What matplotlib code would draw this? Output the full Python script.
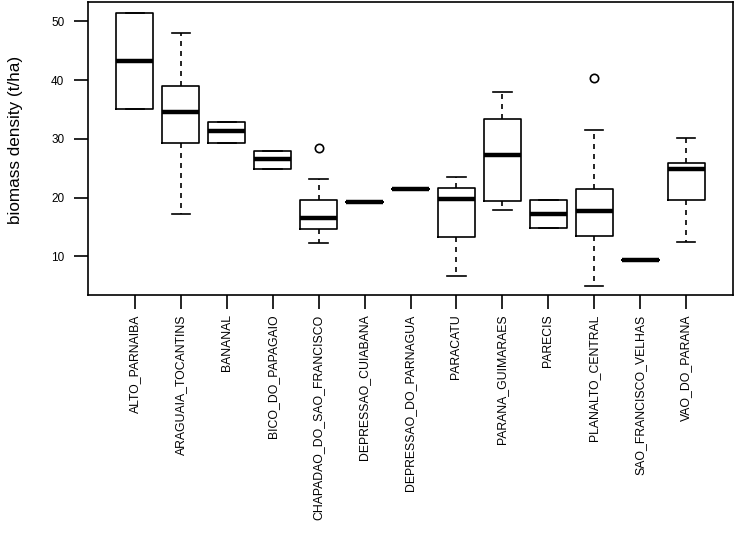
import matplotlib
matplotlib.use("Agg")
import matplotlib.pyplot as plt

plt.rcParams['font.family'] = ['Liberation Sans', 'DejaVu Sans']

regions = ['ALTO_PARNAIBA', 'ARAGUAIA_TOCANTINS', 'BANANAL', 'BICO_DO_PAPAGAIO',
           'CHAPADAO_DO_SAO_FRANCISCO', 'DEPRESSAO_CUIABANA', 'DEPRESSAO_DO_PARNAGUA',
           'PARACATU', 'PARANA_GUIMARAES', 'PARECIS', 'PLANALTO_CENTRAL',
           'SAO_FRANCISCO_VELHAS', 'VAO_DO_PARANA']

# five-number summaries (t/ha)
whisker_low = [35.1, 17.2, 29.3, 24.9, 12.3, 19.3, 21.4, 6.7, 17.9, 14.85, 5.0, 9.3, 12.5]
box_low     = [35.1, 29.3, 29.3, 24.9, 14.6, 19.3, 21.4, 13.2, 19.35, 14.85, 13.4, 9.3, 19.5]
medians     = [43.2, 34.5, 31.3, 26.6, 16.5, 19.3, 21.4, 19.75, 27.3, 17.2, 17.7, 9.3, 24.8]
box_high    = [51.4, 39.0, 32.9, 28.0, 19.5, 19.3, 21.4, 21.6, 33.4, 19.5, 21.4, 9.3, 25.9]
whisker_high = [51.4, 48.1, 32.9, 28.0, 23.2, 19.3, 21.4, 23.5, 38.05, 19.5, 31.5, 9.3, 30.1]
outliers = [[], [], [], [], [28.5], [], [], [], [], [], [40.4], [], []]

stats = []
for i in range(len(regions)):
    stats.append({'label': regions[i], 'whislo': whisker_low[i], 'q1': box_low[i],
                  'med': medians[i], 'q3': box_high[i], 'whishi': whisker_high[i],
                  'fliers': outliers[i]})

fig = plt.figure(figsize=(7.37, 5.37), dpi=100)
ax = fig.add_axes([88/737, 1 - 295/537, (733-88)/737, (295-2)/537])

ax.bxp(stats, positions=range(1, 14), widths=0.8,
       boxprops=dict(color='black', linewidth=1.2),
       medianprops=dict(color='black', linewidth=3.2, solid_capstyle='butt'),
       whiskerprops=dict(color='black', linewidth=1.2, linestyle=(0, (3, 3))),
       capprops=dict(color='black', linewidth=1.2),
       capwidths=0.4,
       flierprops=dict(marker='o', markerfacecolor='none', markeredgecolor='black',
                       markersize=6, markeredgewidth=1.2))

ax.set_xlim(-0.02, 14.02)
ax.set_ylim(3.4, 53.3)
ax.set_yticks([10, 20, 30, 40, 50])
ax.set_xticks(range(1, 14))
ax.set_xticklabels(regions, rotation=90, fontsize=8.8)
ax.tick_params(axis='x', length=10, width=1.2, pad=4)
ax.tick_params(axis='y', length=10, width=1.2, pad=7, labelsize=8.5)
ax.set_ylabel('biomass density (t/ha)', fontsize=12.3)
ax.yaxis.set_label_coords(-65/645, (295 - 140) / 293)
for s in ax.spines.values():
    s.set_linewidth(1.2)

fig.savefig('out.png', dpi=100)
